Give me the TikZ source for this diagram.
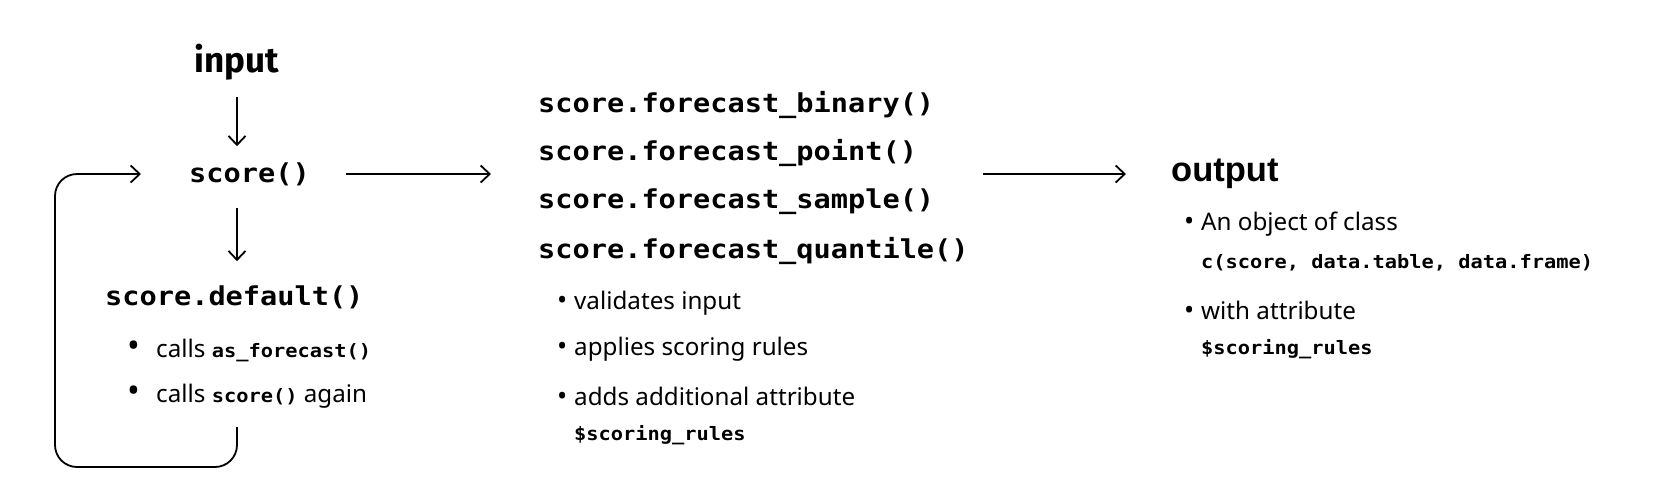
\documentclass[tikz,border=0pt]{standalone}
\usepackage{fontspec}
\setmainfont{Noto Sans}
\newfontfamily\codefont[FakeStretch=1.1]{DejaVu Sans Mono}
\newfontfamily\headfont{Fira Sans}
\newfontfamily\outfont{Liberation Sans}
\usetikzlibrary{arrows.meta}
\newcommand{\code}[1]{{\codefont\bfseries\fontsize{18.5}{22}\selectfont #1}}
\newcommand{\dotb}{\llap{{\fontsize{27}{27}\selectfont\textbullet}\hspace{7pt}}}
\newcommand{\bigdotb}{\llap{{\fontsize{34}{34}\selectfont\textbullet}\hspace{16pt}}}

\begin{document}
\begin{tikzpicture}[x=1pt, y=-1pt, >={Straight Barb[length=9pt,width=17pt]},
    arr/.style={->, line width=1.8pt},
    fn/.style={anchor=west, inner sep=0pt, font=\codefont\bfseries\fontsize{26}{30}\selectfont},
    txt/.style={anchor=west, inner sep=0pt, font=\fontsize{24.2}{28}\selectfont},
    head/.style={inner sep=0pt, font=\outfont\bfseries\fontsize{34.5}{38}\selectfont}]
    \useasboundingbox (0,0) rectangle (1666,496);

    % Entry point
    \node[head, font=\headfont\bfseries\fontsize{35}{38}\selectfont] (input) at (237,62) {input};
    \node[fn] (score) at (189,174) {score()};
    \node[fn] (default) at (105,297) {score.default()};
    \node[txt] (call1) at (156,350) {\bigdotb calls \code{as\_forecast()}};
    \node[txt] (call2) at (156,396) {\bigdotb calls \code{score()} again};

    \draw[arr, shorten <=17pt, shorten >=16pt] (input.south) -- (input.south |- score.north);
    \draw[arr, shorten <=22pt, shorten >=24pt] (input.south |- score.south) -- (input.south |- default.north);

    % Loop back to score()
    \coordinate (loop) at (237,427);
    \draw[arr, rounded corners=22pt] (loop) |- (55,467) |- ([xshift=-48pt]score.west);

    % Forecast methods
    \node[fn] (fbin) at (538,105) {score.forecast\_binary()};
    \node[fn] (fpoint) at (538,153) {score.forecast\_point()};
    \node[fn] (fsample) at (538,202) {score.forecast\_sample()};
    \node[fn] (fquant) at (538,251) {score.forecast\_quantile()};
    \node[txt] (val) at (574,303) {\dotb validates input};
    \node[txt] (rules) at (574,349) {\dotb applies scoring rules};
    \node[txt] (attr) at (574,396) {\dotb adds additional attribute};
    \node[txt] (attrname) at (574,435) {\code{\$scoring\_rules}};

    \draw[arr, shorten <=36pt, shorten >=47pt] (score.east) -- (score.east -| fbin.west);

    % Output
    \node[head, anchor=west] (output) at (1171,174) {output};
    \node[txt] (obj) at (1201,224) {\dotb An object of class};
    \node[txt] (cls) at (1201,263) {\code{c(score, data.table, data.frame)}};
    \node[txt] (with) at (1201,310) {\dotb with attribute};
    \node[txt] (wname) at (1201,349) {\code{\$scoring\_rules}};

    \draw[arr, shorten <=14pt, shorten >=45pt] (score.east -| fquant.east) -- (output.west);
\end{tikzpicture}
\end{document}
